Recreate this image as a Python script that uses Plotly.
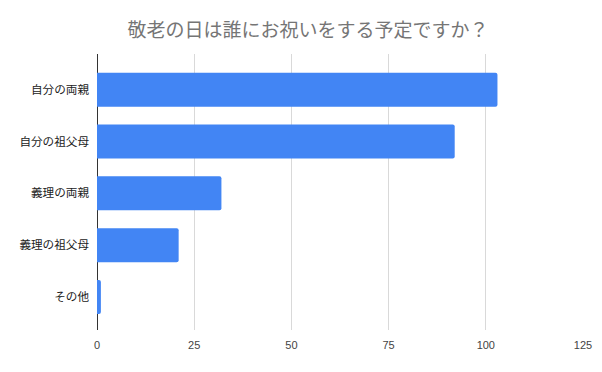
import plotly.graph_objects as go

categories = ["自分の両親", "自分の祖父母", "義理の両親", "義理の祖父母", "その他"]
values = [103, 92, 32, 21, 1]
x_ticks = [0, 25, 50, 75, 100, 125]
title_text = "敬老の日は誰にお祝いをする予定ですか？"

# page body has an 8px margin, so the figure is sized to fit the 602x372 window
fig = go.Figure(go.Bar(
    x=values, y=categories, orientation="h",
    marker=dict(color="#4285F4", cornerradius=2, line=dict(width=0)),
    width=0.656,
))

fig.update_layout(
    width=594, height=364,
    margin=dict(l=89, r=19, t=46, b=42),
    paper_bgcolor="white", plot_bgcolor="white",
    font=dict(family="Noto Sans CJK JP, sans-serif", size=12, color="#222222"),
    title=dict(text=title_text, x=0.505, xanchor="center", xref="container",
               y=1 - 22 / 364, yanchor="middle",
               font=dict(size=19, color="#757575")),
    showlegend=False,
)
fig.update_xaxes(
    range=[0, 125], tickvals=x_ticks, ticktext=[str(v) for v in x_ticks],
    showgrid=True, gridcolor="#d9d9d9", gridwidth=1,
    zeroline=True, zerolinecolor="#333333", zerolinewidth=1,
    ticks="", ticklabelstandoff=7,
    tickfont=dict(family="Liberation Sans, Arial, sans-serif", size=11, color="#444444"),
    automargin=False,
)
fig.update_yaxes(
    categoryorder="array", categoryarray=categories, range=[4.637, -0.689],
    showgrid=False, ticks="", ticklabelstandoff=7,
    tickfont=dict(size=11.6, color="#222222"),
    automargin=False,
)

fig.write_html("out.html")
